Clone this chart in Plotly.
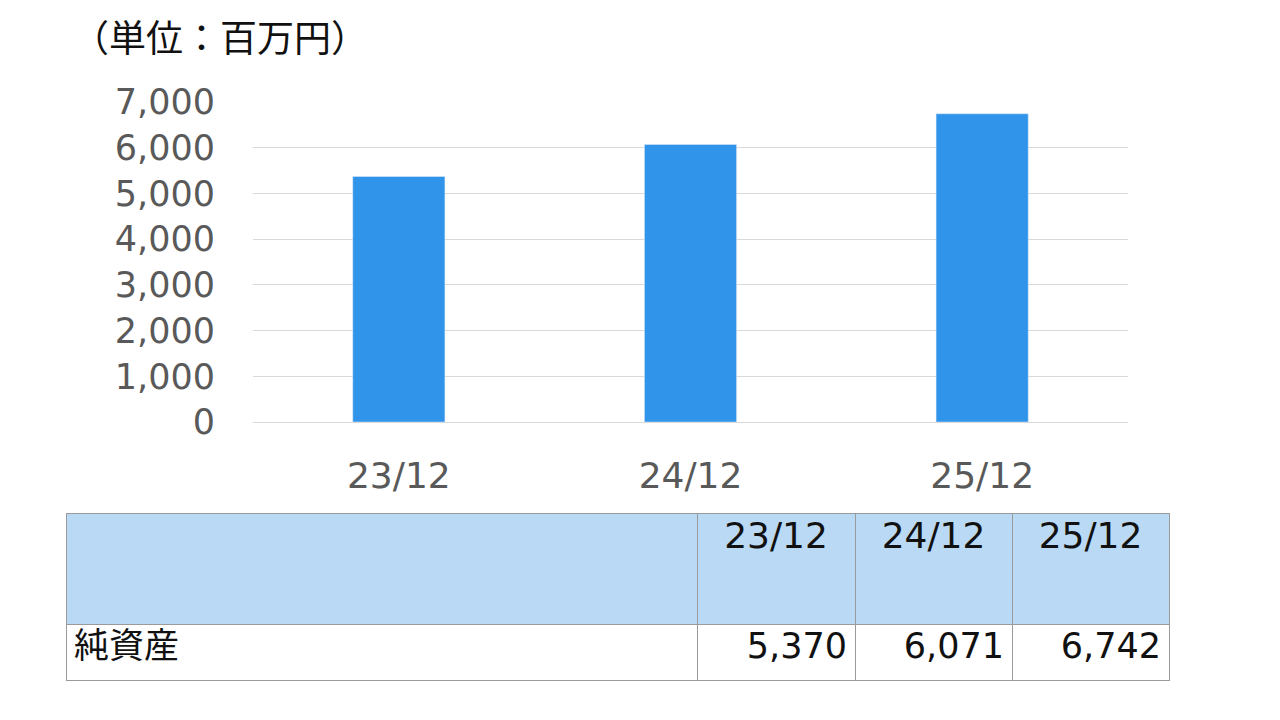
import plotly.graph_objects as go

categories = ["23/12", "24/12", "25/12"]
net_assets = [5370, 6071, 6742]
row_label = "純資産"
unit_label = "（単位：百万円）"
y_ticks = [0, 1000, 2000, 3000, 4000, 5000, 6000, 7000]

W, H = 1280, 720
OFF = 8  # page body margin
def fx(px): return (px - OFF) / W
def fy(py): return 1 - (py - OFF) / H

FONT = "DejaVu Sans, Noto Sans CJK JP, sans-serif"
JFONT = "Noto Sans CJK JP, DejaVu Sans, sans-serif"

fig = go.Figure()
fig.add_trace(go.Bar(
    x=categories, y=net_assets, marker_color="#2F94EA",
    width=0.316, hoverinfo="skip", showlegend=False,
))

fig.add_trace(go.Table(
    domain=dict(x=[fx(66), fx(1169)], y=[fy(700), fy(513)]),
    columnwidth=[631, 158, 157, 157],
    header=dict(
        values=[""] + categories,
        fill_color="#BAD9F4",
        line=dict(color="#9A9A9A", width=1),
        align=["left", "center", "center", "center"],
        font=dict(family=FONT, size=36, color="#111111"),
        height=111,
    ),
    cells=dict(
        values=[[row_label]] + [[f"{v:,}"] for v in net_assets],
        fill_color="white",
        line=dict(color="#9A9A9A", width=1),
        align=["left", "right", "right", "right"],
        font=dict(family=[JFONT, FONT, FONT, FONT], size=35, color="#111111"),
        height=56,
    ),
))

fig.update_layout(
    width=W, height=H,
    margin=dict(l=0, r=0, t=0, b=0, pad=0, autoexpand=False),
    paper_bgcolor="white", plot_bgcolor="white",
    font=dict(family=FONT),
    xaxis=dict(domain=[fx(253), fx(1128)], showline=False, showgrid=False,
               automargin=False,
               tickfont=dict(size=36, color="#595959"), ticks="",
               ticklabelstandoff=29),
    yaxis=dict(domain=[fy(422), fy(102)], range=[0, 7000], automargin=False,
               tickvals=y_ticks, tickformat=",", showgrid=True,
               gridcolor="#D9D9D9", gridwidth=1, zeroline=True,
               zerolinecolor="#D9D9D9", zerolinewidth=1,
               tickfont=dict(size=35, color="#595959"), ticks="",
               ticklabelstandoff=37),
    annotations=[dict(
        text=unit_label, x=fx(70), y=fy(36), xref="paper", yref="paper",
        xanchor="left", yanchor="middle", showarrow=False,
        font=dict(family=JFONT, size=37, color="#111111"),
    )],
)

fig.write_html("out.html")
